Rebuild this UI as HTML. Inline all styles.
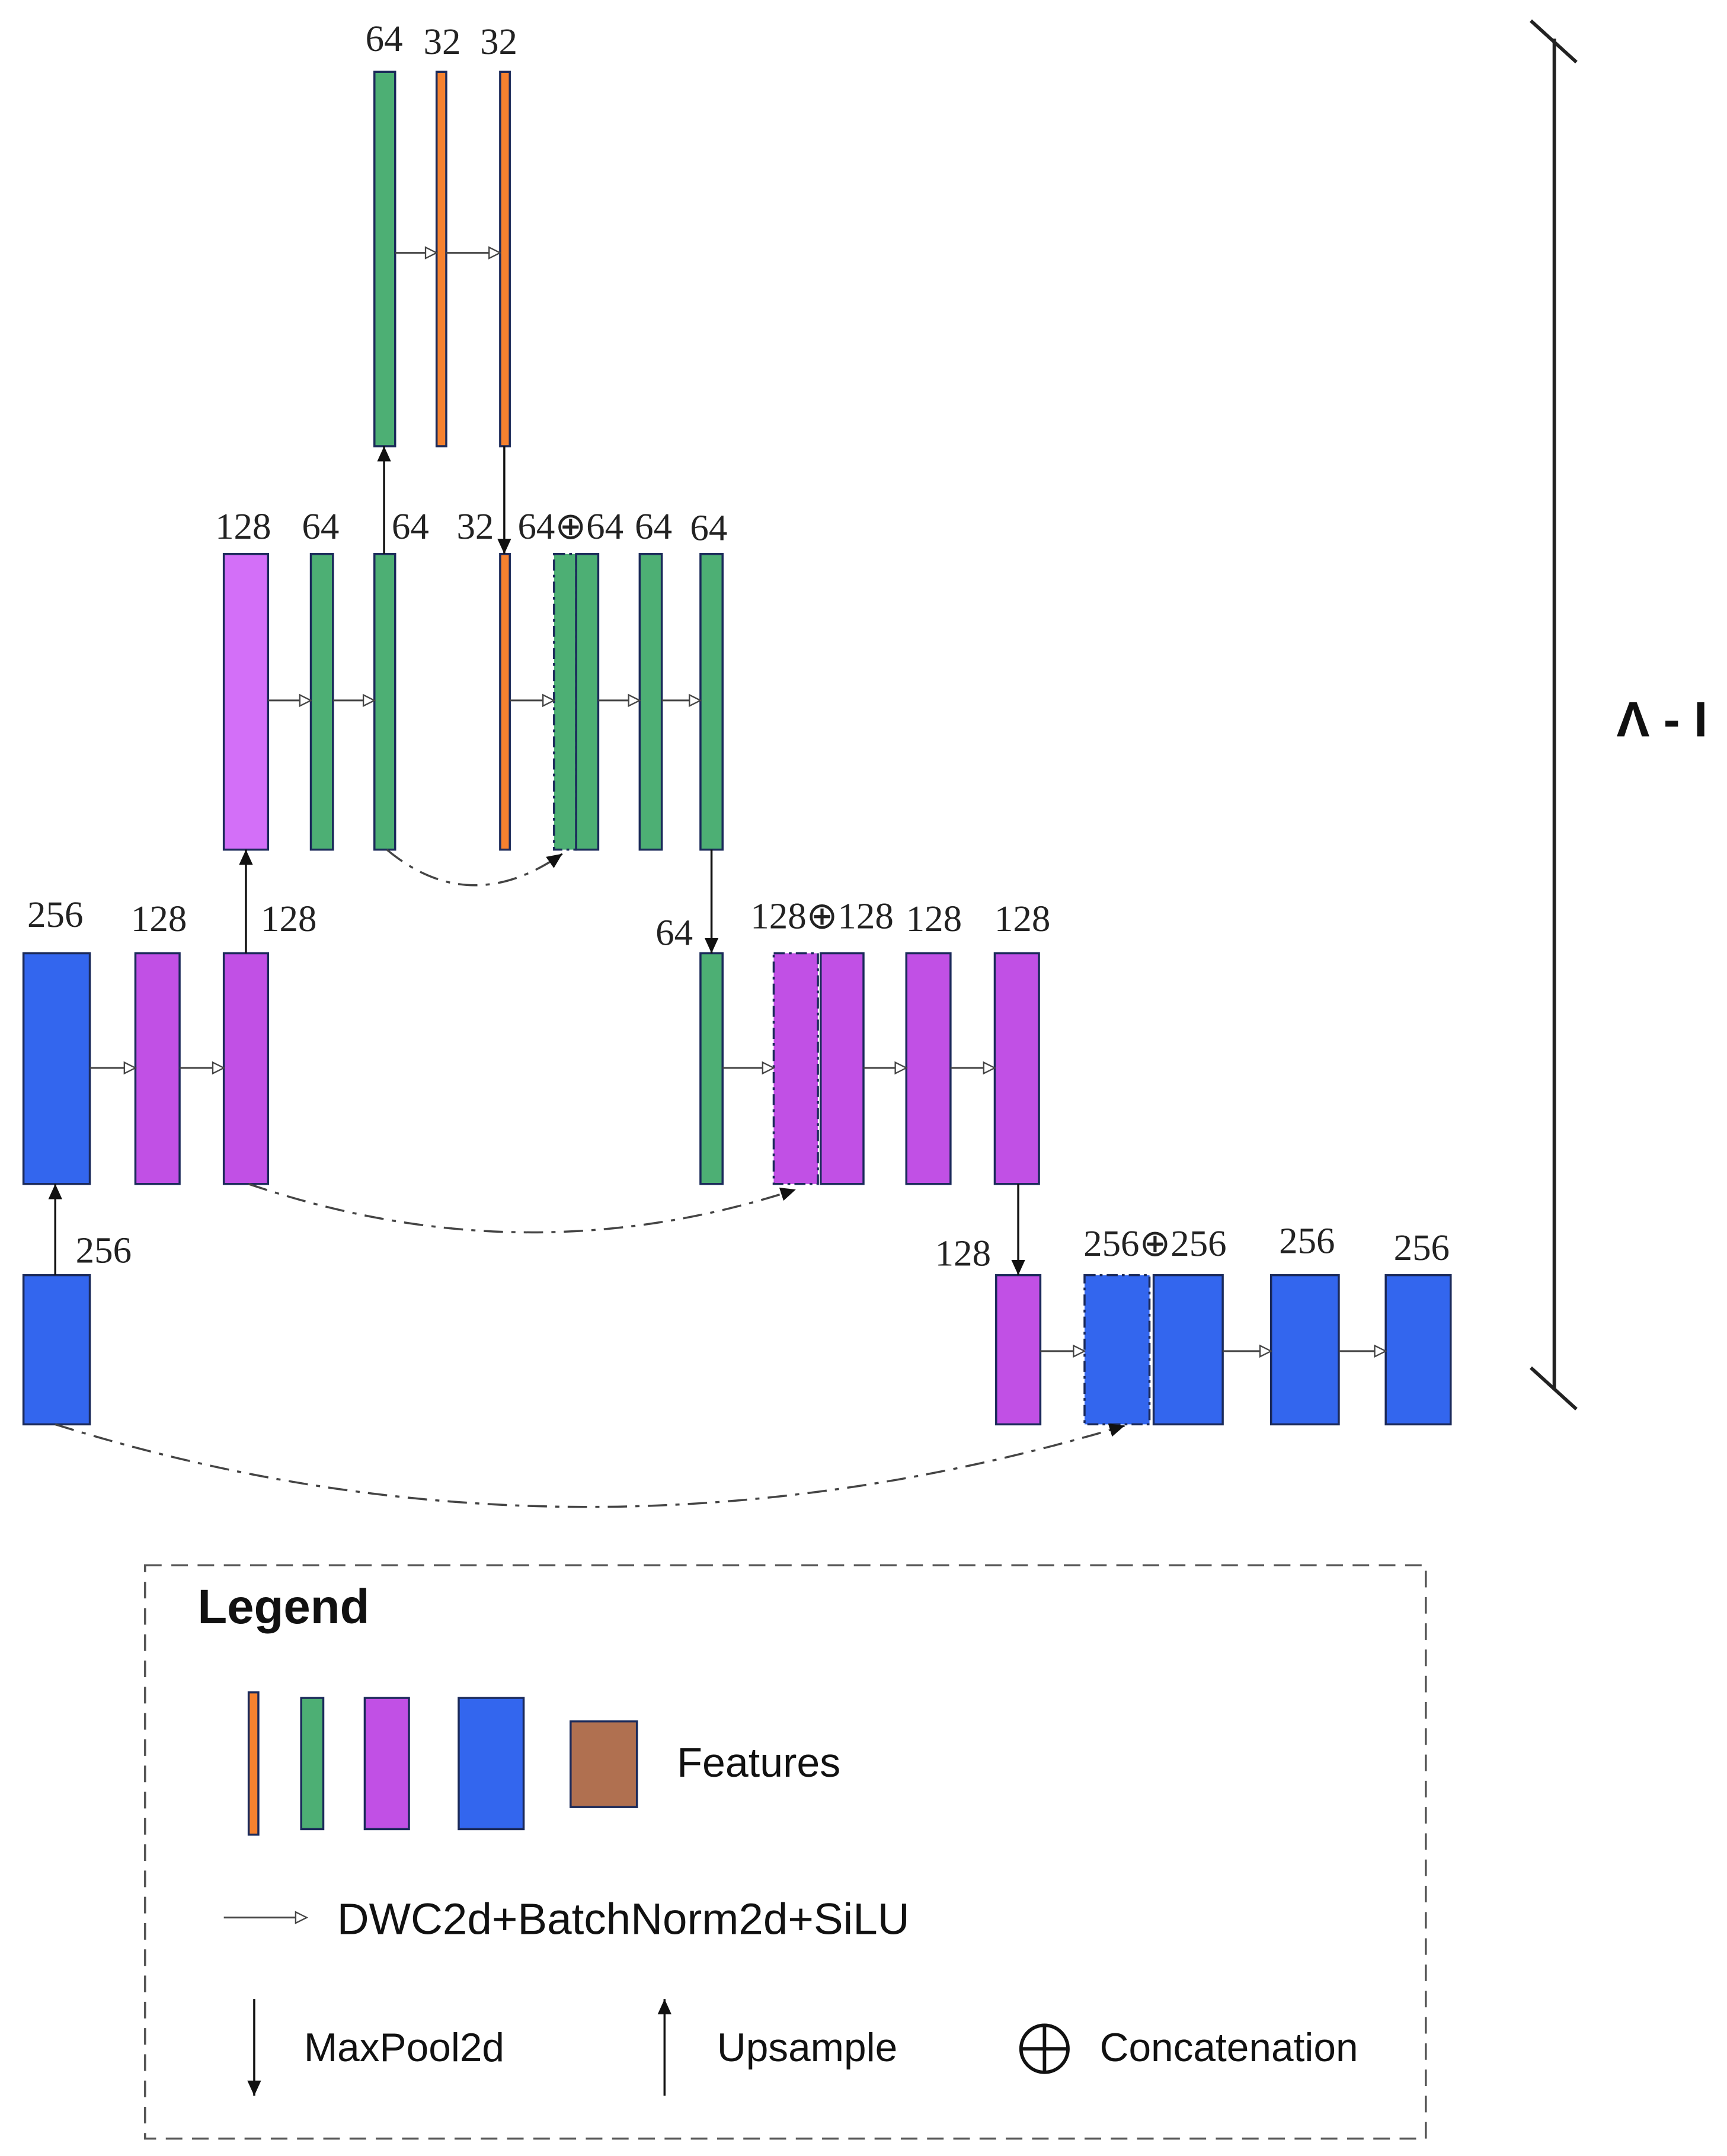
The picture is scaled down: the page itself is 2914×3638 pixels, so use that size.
<!DOCTYPE html>
<html><head><meta charset="utf-8"><style>
html,body{margin:0;padding:0;background:#fff;}
svg{display:block;}
.n{font-family:"Liberation Serif",serif;font-size:27px;fill:#222;text-anchor:middle;}
.l{font-family:"Liberation Sans","DejaVu Sans",sans-serif;font-size:29px;fill:#111;}
</style></head><body>
<svg width="2914" height="3638" viewBox="0 0 1250 1560.6" preserveAspectRatio="none" xmlns="http://www.w3.org/2000/svg">
<defs>
<marker id="oa" markerWidth="10" markerHeight="10" refX="9" refY="5" orient="auto" markerUnits="userSpaceOnUse"><path d="M1,1 L9,5 L1,9 Z" fill="#fff" stroke="#444" stroke-width="1"/></marker>
<marker id="fa" markerWidth="12" markerHeight="12" refX="11" refY="6" orient="auto" markerUnits="userSpaceOnUse"><path d="M0,1 L11,6 L0,11 Z" fill="#111"/></marker>
</defs>
<g stroke="#1b2a5a" stroke-width="1.5">
<rect x="271" y="52" width="15" height="271" fill="#4daf74"/>
<rect x="316" y="52" width="7" height="271" fill="#f5812f"/>
<rect x="362" y="52" width="7" height="271" fill="#f5812f"/>
<rect x="162" y="401" width="32" height="214" fill="#d36ff8"/>
<rect x="225" y="401" width="16" height="214" fill="#4daf74"/>
<rect x="271" y="401" width="15" height="214" fill="#4daf74"/>
<rect x="362" y="401" width="7" height="214" fill="#f5812f"/>
<rect x="401" y="401" width="16" height="214" fill="#4daf74" stroke-dasharray="8,3,2,3"/>
<rect x="417" y="401" width="16" height="214" fill="#4daf74"/>
<rect x="463" y="401" width="16" height="214" fill="#4daf74"/>
<rect x="507" y="401" width="16" height="214" fill="#4daf74"/>
<rect x="17" y="690" width="48" height="167" fill="#3366ee"/>
<rect x="98" y="690" width="32" height="167" fill="#c150e5"/>
<rect x="162" y="690" width="32" height="167" fill="#c150e5"/>
<rect x="507" y="690" width="16" height="167" fill="#4daf74"/>
<rect x="560" y="690" width="32" height="167" fill="#c150e5" stroke-dasharray="8,3,2,3"/>
<rect x="594" y="690" width="31" height="167" fill="#c150e5"/>
<rect x="656" y="690" width="32" height="167" fill="#c150e5"/>
<rect x="720" y="690" width="32" height="167" fill="#c150e5"/>
<rect x="17" y="923" width="48" height="108" fill="#3366ee"/>
<rect x="721" y="923" width="32" height="108" fill="#c150e5"/>
<rect x="785" y="923" width="47" height="108" fill="#3366ee" stroke-dasharray="8,3,2,3"/>
<rect x="835" y="923" width="50" height="108" fill="#3366ee"/>
<rect x="920" y="923" width="49" height="108" fill="#3366ee"/>
<rect x="1003" y="923" width="47" height="108" fill="#3366ee"/>
</g>
<g stroke="#444" stroke-width="1.3" marker-end="url(#oa)">
<line x1="286" y1="183" x2="316" y2="183"/>
<line x1="323" y1="183" x2="362" y2="183"/>
<line x1="194" y1="507" x2="225" y2="507"/>
<line x1="241" y1="507" x2="271" y2="507"/>
<line x1="369" y1="507" x2="401" y2="507"/>
<line x1="433" y1="507" x2="463" y2="507"/>
<line x1="479" y1="507" x2="507" y2="507"/>
<line x1="65" y1="773" x2="98" y2="773"/>
<line x1="130" y1="773" x2="162" y2="773"/>
<line x1="523" y1="773" x2="560" y2="773"/>
<line x1="625" y1="773" x2="656" y2="773"/>
<line x1="688" y1="773" x2="720" y2="773"/>
<line x1="753" y1="978" x2="785" y2="978"/>
<line x1="885" y1="978" x2="920" y2="978"/>
<line x1="969" y1="978" x2="1003" y2="978"/>
</g>
<g stroke="#111" stroke-width="1.5" marker-end="url(#fa)">
<line x1="278" y1="401" x2="278" y2="323"/>
<line x1="365" y1="323" x2="365" y2="401"/>
<line x1="178" y1="690" x2="178" y2="615"/>
<line x1="515" y1="615" x2="515" y2="690"/>
<line x1="40" y1="923" x2="40" y2="857"/>
<line x1="737" y1="857" x2="737" y2="923"/>
</g>
<g fill="none" stroke="#444" stroke-width="1.5" stroke-dasharray="14,6,3,6" marker-end="url(#fa)">
<path d="M280,615 Q340,665 407,618"/>
<path d="M180,857 Q380,925 576,861"/>
<path d="M40,1031 Q420,1150 814,1032"/>
</g>
<text class="n" x="278" y="37">64</text>
<text class="n" x="320" y="39">32</text>
<text class="n" x="361" y="39">32</text>
<text class="n" x="176" y="390">128</text>
<text class="n" x="232" y="390">64</text>
<text class="n" x="297" y="390">64</text>
<text class="n" x="344" y="390">32</text>
<text class="n" x="413" y="390">64⊕64</text>
<text class="n" x="473" y="390">64</text>
<text class="n" x="513" y="391">64</text>
<text class="n" x="40" y="671">256</text>
<text class="n" x="115" y="674">128</text>
<text class="n" x="209" y="674">128</text>
<text class="n" x="488" y="684">64</text>
<text class="n" x="595" y="672">128⊕128</text>
<text class="n" x="676" y="674">128</text>
<text class="n" x="740" y="674">128</text>
<text class="n" x="75" y="914">256</text>
<text class="n" x="697" y="916">128</text>
<text class="n" x="836" y="909">256⊕256</text>
<text class="n" x="946" y="907">256</text>
<text class="n" x="1029" y="912">256</text>
<g stroke="#222" stroke-width="2.5">
<line x1="1125" y1="28" x2="1125" y2="1005"/>
<line x1="1108" y1="15" x2="1141" y2="45"/>
<line x1="1108" y1="990" x2="1141" y2="1020"/>
</g>
<text x="1170" y="533" style="font-family:'Liberation Sans',sans-serif;font-size:36px;font-weight:bold;fill:#111">Λ - I</text>
<rect x="105" y="1133" width="927" height="415" fill="none" stroke="#555" stroke-width="1.5" stroke-dasharray="12,7"/>
<text x="143" y="1175" style="font-family:'Liberation Sans',sans-serif;font-size:35px;font-weight:bold;fill:#111">Legend</text>
<g stroke="#1b2a5a" stroke-width="1.5">
<rect x="180" y="1225" width="7" height="103" fill="#f5812f"/>
<rect x="218" y="1229" width="16" height="95" fill="#4daf74"/>
<rect x="264" y="1229" width="32" height="95" fill="#c150e5"/>
<rect x="332" y="1229" width="47" height="95" fill="#3366ee"/>
<rect x="413" y="1246" width="48" height="62" fill="#b07050"/>
</g>
<text class="l" x="490" y="1286" fill="#333" style="font-size:30px">Features</text>
<line x1="162" y1="1388" x2="222" y2="1388" stroke="#444" stroke-width="1.3" marker-end="url(#oa)"/>
<text class="l" x="244" y="1400" style="font-size:32px">DWC2d+BatchNorm2d+SiLU</text>
<line x1="184" y1="1447" x2="184" y2="1517" stroke="#111" stroke-width="1.5" marker-end="url(#fa)"/>
<text class="l" x="220" y="1492">MaxPool2d</text>
<line x1="481" y1="1517" x2="481" y2="1447" stroke="#111" stroke-width="1.5" marker-end="url(#fa)"/>
<text class="l" x="519" y="1492">Upsample</text>
<circle cx="756" cy="1483" r="17" fill="none" stroke="#111" stroke-width="2.5"/>
<line x1="739" y1="1483" x2="773" y2="1483" stroke="#111" stroke-width="2.5"/>
<line x1="756" y1="1466" x2="756" y2="1500" stroke="#111" stroke-width="2.5"/>
<text class="l" x="796" y="1492">Concatenation</text>
</svg>
</body></html>
